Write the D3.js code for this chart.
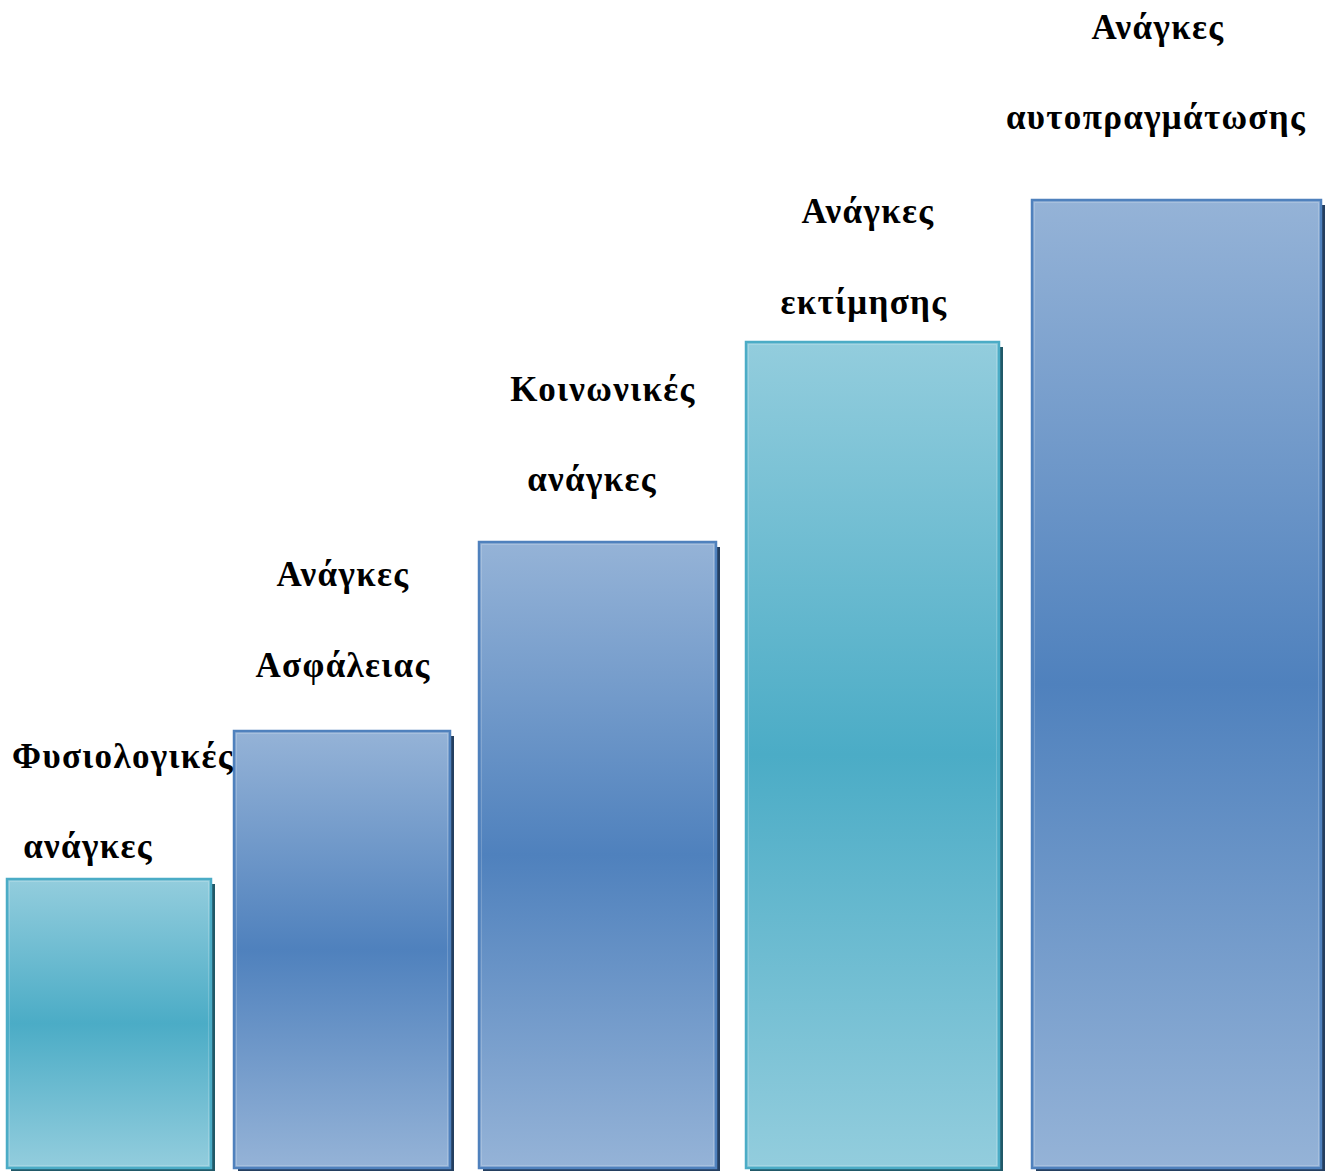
<!DOCTYPE html>
<html>
<head>
<meta charset="utf-8">
<script src="https://cdn.jsdelivr.net/npm/d3@7"></script>
<style>
  html, body { margin: 0; padding: 0; background: #ffffff; }
  svg { display: block; }
  .lbl { font-family: "Liberation Serif", "Times New Roman", serif; font-weight: bold; font-size: 35px; letter-spacing: 1.35px; fill: #000; }
</style>
</head>
<body>
<svg id="chart" width="1327" height="1171"></svg>
<script>
// ---------------- DATA ----------------
const categories = ["Φυσιολογικές ανάγκες", "Ανάγκες Ασφάλειας", "Κοινωνικές ανάγκες", "Ανάγκες εκτίμησης", "Ανάγκες αυτοπραγμάτωσης"];
const labelLines = [
  ["Φυσιολογικές", "ανάγκες"],
  ["Ανάγκες", "Ασφάλειας"],
  ["Κοινωνικές", "ανάγκες"],
  ["Ανάγκες", "εκτίμησης"],
  ["Ανάγκες", "αυτοπραγμάτωσης"]
];
const values = [289, 437, 626, 826, 968];
const palette = ["teal", "blue", "blue", "teal", "blue"];

// ---------------- LAYOUT (sizes / positions) ----------------
const W = 1327, H = 1171;
const baseY = 1168;
const barStart = [7, 234, 479, 746, 1032];
const barEnd   = [211, 450, 716, 999, 1321];
const labelCenters = [[123, 88], [343, 343], [603, 592], [868, 864], [1158, 1156]];
const labelBaselines = [[768, 858], [586, 677], [401, 491], [223, 314], [39, 129]];
const styles = {
  teal: { light: "#93CDDD", dark: "#4BACC6", stroke: "#4BACC6", shadow: "#215968" },
  blue: { light: "#95B3D7", dark: "#4F81BD", stroke: "#4F81BD", shadow: "#243F60" }
};

const svg = d3.select("#chart");
const y = d3.scaleLinear().domain([0, 1000]).range([baseY, baseY - 1000]);
const x = d3.scaleLinear().domain([0, W]).range([0, W]);

const defs = svg.append("defs");
Object.entries(styles).forEach(([k, s]) => {
  const g = defs.append("linearGradient").attr("id", "grad-" + k)
    .attr("x1", 0).attr("y1", 0).attr("x2", 0).attr("y2", 1);
  g.append("stop").attr("offset", "0%").attr("stop-color", s.light);
  g.append("stop").attr("offset", "50%").attr("stop-color", s.dark);
  g.append("stop").attr("offset", "100%").attr("stop-color", s.light);
});

const data = categories.map((c, i) => ({
  cat: c, value: values[i], style: palette[i], lines: labelLines[i], i
}));

const bars = svg.append("g").selectAll("g.bar").data(data).join("g").attr("class", "bar");

// shadow
bars.append("rect")
  .attr("x", d => x(barStart[d.i]) + 4)
  .attr("y", d => y(d.value) + 5)
  .attr("width", d => x(barEnd[d.i]) - x(barStart[d.i]))
  .attr("height", d => y(0) - y(d.value))
  .attr("fill", d => styles[d.style].shadow);

// main bar
bars.append("rect")
  .attr("x", d => x(barStart[d.i]))
  .attr("y", d => y(d.value))
  .attr("width", d => x(barEnd[d.i]) - x(barStart[d.i]))
  .attr("height", d => y(0) - y(d.value))
  .attr("fill", d => `url(#grad-${d.style})`)
  .attr("stroke", d => styles[d.style].stroke)
  .attr("stroke-width", 2.5);

// inner highlight
bars.append("rect")
  .attr("x", d => x(barStart[d.i]) + 2.5)
  .attr("y", d => y(d.value) + 2.5)
  .attr("width", d => x(barEnd[d.i]) - x(barStart[d.i]) - 5)
  .attr("height", d => y(0) - y(d.value) - 5)
  .attr("fill", "none")
  .attr("stroke", "#ffffff")
  .attr("stroke-opacity", 0.18)
  .attr("stroke-width", 1);

// labels
svg.append("g").selectAll("text").data(data.flatMap(d => d.lines.map((t, j) => ({t, i: d.i, j}))))
  .join("text")
  .attr("class", "lbl")
  .attr("text-anchor", "middle")
  .attr("x", d => labelCenters[d.i][d.j])
  .attr("y", d => labelBaselines[d.i][d.j])
  .text(d => d.t);
</script>
</body>
</html>
